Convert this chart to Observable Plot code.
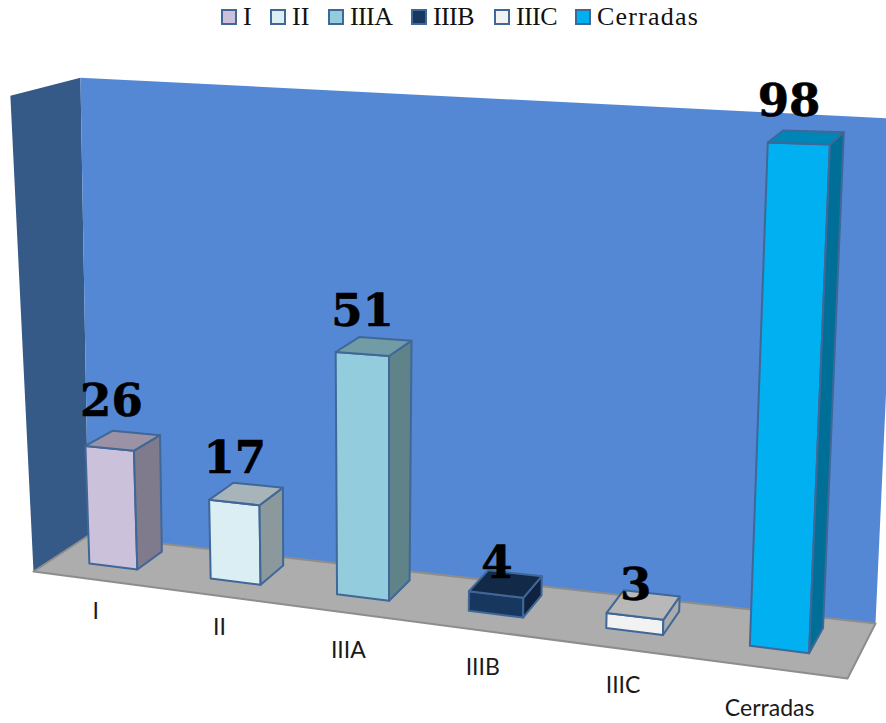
<!DOCTYPE html>
<html><head><meta charset="utf-8">
<script src="https://cdn.jsdelivr.net/npm/d3@7"></script>
<script src="https://cdn.jsdelivr.net/npm/@observablehq/plot@0.6"></script>
<style>
html,body{margin:0;background:#fff}
#legend{height:34px;position:relative;font:26px "Liberation Serif",serif;color:#111}
#legend .it{position:absolute;top:0;height:34px;display:flex;align-items:center;white-space:nowrap}
#legend i{display:block;width:12px;height:12px;border:2px solid #3f6797;margin-right:6px}
svg{display:block}
</style></head><body>
<div id="legend"></div>
<div id="chart"></div>
<script>
const categories = ["I","II","IIIA","IIIB","IIIC","Cerradas"];
const values = [26,17,51,4,3,98];
const frontColors = ["#ccc1da","#dbeef4","#93cddd","#17375e","#f2f2f2","#00b0f0"];
const topColors = ["#9b92a6","#a7b5ba","#719ca6","#122a48","#b8b8b8","#0086b6"];
const sideColors = ["#7f7a8c","#8b989c","#5f8388","#0f2340","#ababab","#006f98"];
const labelLift = [17,12,13,-5,-7,15];
const labelNudge = [0,0,0,1,1,0];
const catShift = [-4,-4,2,1,1,4];
const legendLeft = [221,270,328,411,494,575];
const legendSpacing = [0,0,-0.6,-0.6,-0.6,1.2];

const axisMax = 104;
// projection of the chart box (u along categories, d depth, t height) to the picture
const far = 0.88;
const box = {
  f0:[[33,571],[10,98]],  f1:[[847,678],[872,123]],
  b0:[[88,535],[80,80]],  b1:[[875,623],[899,98]]
};
function project(u,d,t){
  const wu=[1-u,u*far], wd=[1-d,d], wt=[1-t,t];
  let X=0,Y=0,W=0;
  const c=[[box.f0,box.b0],[box.f1,box.b1]];
  for(let i=0;i<2;i++)for(let j=0;j<2;j++)for(let k=0;k<2;k++){
    const w=wu[i]*wd[j]*wt[k], p=c[i][j][k];
    X+=w*p[0];Y+=w*p[1];W+=w;
  }
  return [X/W,Y/W];
}
function face(id,color,pts){
  const ring=[...pts,pts[0]];
  return ring.map(([u,d,t])=>{const [x,y]=project(u,d,t);return {id,color,x,y};});
}
const wallT0=1.006, wallT1=0.961;
const walls=[
  ...face("left","#355a88",[[0,0,0],[0,1,0],[0,1,wallT0],[0,0,wallT0]]),
  ...face("back","#5588d4",[[0,1,0],[1,1,0],[1,1,wallT1],[0,1,wallT0]])
];
const floor=face("floor","#adadad",[[0,0,0],[1,0,0],[1,1,0],[0,1,0]]);
const d0=0.35,d1=0.82,band=0.995/6;
const faces=categories.flatMap((c,i)=>{
  const u0=(i+0.31)*band,u1=(i+0.71)*band,t=values[i]/axisMax;
  return [
    ...face(c+"-front",frontColors[i],[[u0,d0,0],[u1,d0,0],[u1,d0,t],[u0,d0,t]]),
    ...face(c+"-side",sideColors[i],[[u1,d0,0],[u1,d1,0],[u1,d1,t],[u1,d0,t]]),
    ...face(c+"-top",topColors[i],[[u0,d0,t],[u1,d0,t],[u1,d1,t],[u0,d1,t]])
  ];
});
const valueLabels=categories.map((c,i)=>{
  const u=(i+0.51)*band,t=values[i]/axisMax;
  return {x:project(u,d0,t/2)[0]+labelNudge[i],y:project(u,d1,t)[1]-labelLift[i],text:String(values[i])};
});
const catLabels=categories.map((c,i)=>{
  const [x,y]=project((i+0.51)*band,0,0);
  return {x:x+1,y:y+36+catShift[i],text:c};
});

d3.select("#legend").selectAll(".it").data(categories).join("div").attr("class","it")
  .style("left",(c,i)=>legendLeft[i]+"px")
  .html((c,i)=>`<i style="background:${frontColors[i]}"></i><span style="letter-spacing:${legendSpacing[i]}px">${c}</span>`);

const chart=Plot.plot({
  width:886,height:689,margin:0,
  x:{domain:[0,886],range:[0,886],axis:null},
  y:{domain:[34,723],range:[0,689],axis:null},
  color:{type:"identity"},
  marks:[
    Plot.line(walls,{x:"x",y:"y",z:"id",fill:"color",stroke:"none"}),
    Plot.line(floor,{x:"x",y:"y",z:"id",fill:"color",stroke:"#8d8d8d",strokeWidth:2}),
    Plot.line(faces,{x:"x",y:"y",z:"id",fill:"color",stroke:"#3f6797",strokeWidth:2,strokeLinejoin:"round"}),
    Plot.text(catLabels,{x:"x",y:"y",text:"text",fontFamily:"Lato",fontSize:23,fill:"#1a1a1a"}),
    Plot.text(valueLabels,{x:"x",y:"y",text:"text",fontFamily:"DejaVu Serif",fontWeight:"bold",fontSize:45,fill:"#000",stroke:"#000",strokeWidth:0.6,textAnchor:"middle",lineAnchor:"bottom"})
  ]
});
document.getElementById("chart").append(chart);
</script>
</body></html>
